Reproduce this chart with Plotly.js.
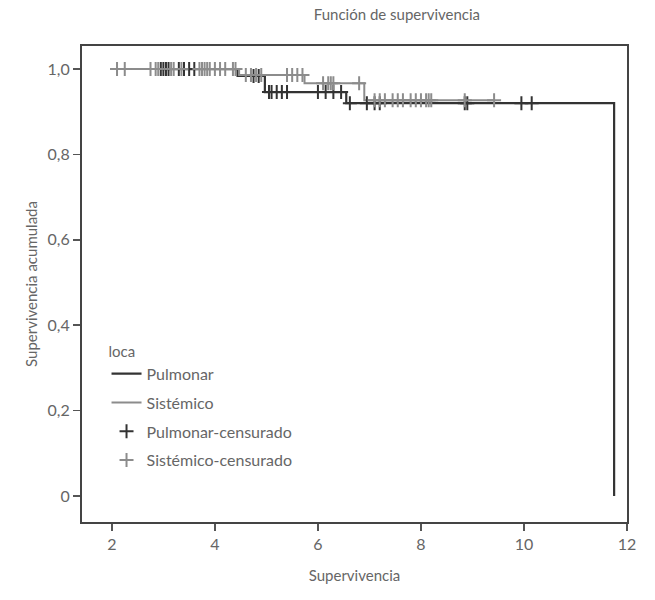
<!DOCTYPE html>
<html><head><meta charset="utf-8">
<script src="https://cdn.plot.ly/plotly-3.0.1.min.js"></script>
<style>html,body{margin:0;padding:0;background:#fff}</style>
</head><body><div id="chart" style="width:655px;height:600px"></div>
<script>
// Step curves (time, cumulative survival)
const pulmonarTime = [2.95, 4.44, 4.97, 6.55, 11.75, 11.75];
const pulmonarSurv = [1.0, 0.984, 0.946, 0.920, 0.920, 0.0];
const sistemicoTime = [2.10, 4.47, 5.74, 6.90, 9.42];
const sistemicoSurv = [1.0, 0.986, 0.967, 0.927, 0.927];
// Censored observations
const pulmonarCensTime = [2.95, 3.00, 3.05, 3.10, 3.30, 3.40, 3.50, 3.60, 4.75, 4.85,
  5.05, 5.10, 5.20, 5.30, 5.40, 6.00, 6.15, 6.30, 6.45, 6.62, 6.95, 7.10, 7.20, 8.85, 8.90, 9.95, 10.15];
const pulmonarCensSurv = [1.0, 1.0, 1.0, 1.0, 1.0, 1.0, 1.0, 1.0, 0.984, 0.984,
  0.946, 0.946, 0.946, 0.946, 0.946, 0.946, 0.946, 0.946, 0.946, 0.920, 0.920, 0.920, 0.920, 0.920, 0.920, 0.920, 0.920];
const sistemicoCensTime = [2.10, 2.25, 2.75, 2.85, 2.90, 3.15, 3.20, 3.35, 3.70, 3.75, 3.80, 3.85, 3.90, 4.00, 4.10, 4.20, 4.35, 4.40,
  4.60, 4.70, 4.80, 4.90, 5.40, 5.50, 5.60, 5.70, 6.10, 6.20, 6.25, 6.30, 6.80,
  7.10, 7.20, 7.30, 7.45, 7.55, 7.65, 7.80, 7.90, 8.00, 8.10, 8.15, 8.20, 8.85, 9.42];
const sistemicoCensSurv = [1.0, 1.0, 1.0, 1.0, 1.0, 1.0, 1.0, 1.0, 1.0, 1.0, 1.0, 1.0, 1.0, 1.0, 1.0, 1.0, 1.0, 1.0,
  0.986, 0.986, 0.986, 0.986, 0.986, 0.986, 0.986, 0.986, 0.967, 0.967, 0.967, 0.967, 0.967,
  0.927, 0.927, 0.927, 0.927, 0.927, 0.927, 0.927, 0.927, 0.927, 0.927, 0.927, 0.927, 0.927, 0.927];
const xTicks = [2, 4, 6, 8, 10, 12];
const yTicks = [0, 0.2, 0.4, 0.6, 0.8, 1.0];
const yTickText = ['0', '0,2', '0,4', '0,6', '0,8', '1,0'];
const seriesNames = ['Pulmonar', 'Sistémico', 'Pulmonar-censurado', 'Sistémico-censurado'];

const dark = '#333333', grey = '#8c8c8c', txt = '#666';
const fontFam = 'Lato, "DejaVu Sans", sans-serif';

const traces = [
  {x: pulmonarTime, y: pulmonarSurv, name: seriesNames[0], legendgroup: 'a', mode: 'lines', line: {shape: 'hv', color: dark, width: 2.2}},
  {x: sistemicoTime, y: sistemicoSurv, name: seriesNames[1], legendgroup: 'b', mode: 'lines', line: {shape: 'hv', color: grey, width: 2}},
  {x: pulmonarCensTime, y: pulmonarCensSurv, name: seriesNames[2], legendgroup: 'c', mode: 'markers',
   marker: {symbol: 'cross-thin', size: 10, color: dark, line: {color: dark, width: 2}}},
  {x: sistemicoCensTime, y: sistemicoCensSurv, name: seriesNames[3], legendgroup: 'd', mode: 'markers',
   marker: {symbol: 'cross-thin', size: 10, color: grey, line: {color: grey, width: 2}}}
];

const axisCommon = {showline: true, mirror: true, linecolor: '#444', linewidth: 2,
  ticks: 'outside', ticklen: 7, tickwidth: 1.5, tickcolor: '#555', showgrid: false, zeroline: false,
  tickfont: {family: fontFam, size: 16, color: txt}};

const layout = {
  width: 655, height: 600,
  margin: {l: 82, r: 28, t: 46, b: 78},
  paper_bgcolor: '#fff', plot_bgcolor: '#fff',
  font: {family: fontFam, color: txt},
  title: {text: 'Función de supervivencia', x: 0.606, xanchor: 'center', y: 0.975, yanchor: 'middle',
          font: {family: fontFam, size: 15, color: txt}},
  xaxis: Object.assign({}, axisCommon, {range: [1.42, 12.0], tickvals: xTicks,
    title: {text: 'Supervivencia', standoff: 18, font: {family: fontFam, size: 15, color: txt}}}),
  yaxis: Object.assign({}, axisCommon, {range: [-0.061, 1.054], tickvals: yTicks, ticktext: yTickText,
    title: {text: 'Supervivencia acumulada', standoff: 6, font: {family: fontFam, size: 15, color: txt}}}),
  showlegend: true,
  legend: {x: 0.045, y: 0.388, xanchor: 'left', yanchor: 'top', bgcolor: 'rgba(0,0,0,0)',
    traceorder: 'grouped',
    title: {text: 'loca', font: {family: fontFam, size: 15, color: txt}},
    font: {family: fontFam, size: 16, color: txt}, tracegroupgap: 5, itemwidth: 30}
};

Plotly.newPlot('chart', traces, layout, {displayModeBar: false, staticPlot: true});
</script></body></html>
